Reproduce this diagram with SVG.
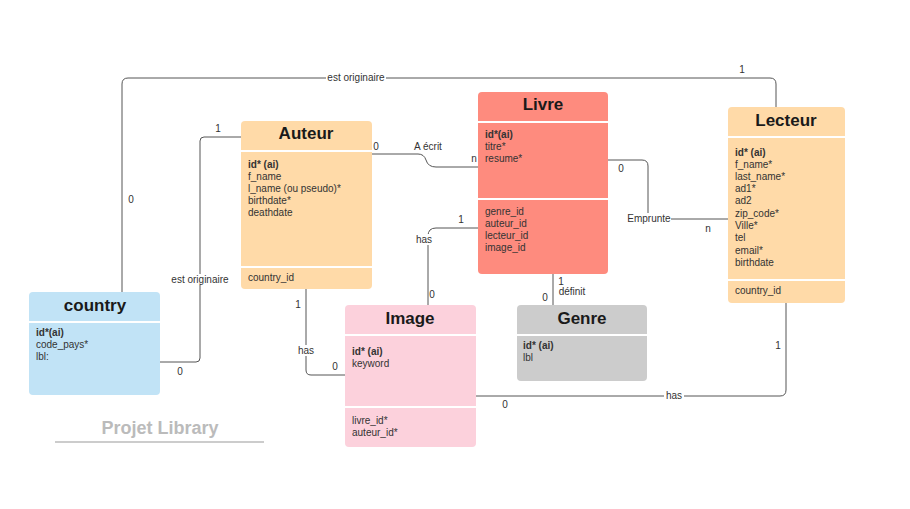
<svg xmlns="http://www.w3.org/2000/svg" width="910" height="509" viewBox="0 0 910 509">
<style>
.t{font-family:"Liberation Sans",Arial,sans-serif;font-size:17px;font-weight:bold;fill:#1a1a1a;text-anchor:middle}
.f{font-family:"Liberation Sans",Arial,sans-serif;font-size:10px;fill:#333}
.b{font-weight:bold}
.l{font-family:"Liberation Sans",Arial,sans-serif;font-size:10px;fill:#333}
.c{fill:none;stroke:#555;stroke-width:1}
.d{stroke:#fff;stroke-width:2}
</style>
<rect width="910" height="509" fill="#fff"/>
<g id="connectors">
<path class="c" d="M122 292 V84 Q122 78 128 78 H770 Q776 78 776 84 V107"/>
<path class="c" d="M160 362 H196 Q200 362 200 358 V141 Q200 137 204 137 H241"/>
<path class="c" d="M372 154 H418 Q424 154 426 160 Q428 167 436 167 H478"/>
<path class="c" d="M478 228 H436 Q428 228 428 236 V305"/>
<path class="c" d="M553 274 V305"/>
<path class="c" d="M608 160 H642 Q648 160 648 166 V219 H728"/>
<path class="c" d="M306 289 V370 Q306 375 311 375 H345"/>
<path class="c" d="M469 396 H780 Q786 396 786 390 V303"/>
<rect x="326" y="72" width="60" height="11" fill="#fff"/>
<text class="l" x="356" y="81" text-anchor="middle">est originaire</text>
<text class="l" x="742" y="73" text-anchor="middle">1</text>
<text class="l" x="131" y="203" text-anchor="middle">0</text>
<rect x="170" y="274" width="60" height="11" fill="#fff"/>
<text class="l" x="200" y="283" text-anchor="middle">est originaire</text>
<text class="l" x="218" y="132" text-anchor="middle">1</text>
<text class="l" x="180" y="375" text-anchor="middle">0</text>
<text class="l" x="376" y="150" text-anchor="middle">0</text>
<text class="l" x="428" y="150" text-anchor="middle">A écrit</text>
<text class="l" x="474" y="162" text-anchor="middle">n</text>
<rect x="414" y="234" width="20" height="11" fill="#fff"/>
<text class="l" x="424" y="243" text-anchor="middle">has</text>
<text class="l" x="461" y="223" text-anchor="middle">1</text>
<text class="l" x="432" y="298" text-anchor="middle">0</text>
<text class="l" x="561" y="285" text-anchor="middle">1</text>
<text class="l" x="572" y="295" text-anchor="middle">définit</text>
<text class="l" x="545" y="301" text-anchor="middle">0</text>
<rect x="627" y="213" width="44" height="11" fill="#fff"/>
<text class="l" x="649" y="222" text-anchor="middle">Emprunte</text>
<text class="l" x="621" y="172" text-anchor="middle">0</text>
<text class="l" x="708" y="232" text-anchor="middle">n</text>
<text class="l" x="298" y="308" text-anchor="middle">1</text>
<rect x="296" y="345" width="20" height="11" fill="#fff"/>
<text class="l" x="306" y="354" text-anchor="middle">has</text>
<text class="l" x="335" y="370" text-anchor="middle">0</text>
<rect x="664" y="390" width="20" height="11" fill="#fff"/>
<text class="l" x="674" y="399" text-anchor="middle">has</text>
<text class="l" x="505" y="408" text-anchor="middle">0</text>
<text class="l" x="778" y="349" text-anchor="middle">1</text>
</g>
<g id="auteur">
<rect x="241" y="121" width="131" height="168" rx="4" fill="#ffdaa8"/>
<line class="d" x1="241" y1="151" x2="372" y2="151"/>
<line class="d" x1="241" y1="267" x2="372" y2="267"/>
<text class="t" x="306" y="139">Auteur</text>
<text class="f b" x="248" y="168">id* (ai)</text>
<text class="f" x="248" y="180">f_name</text>
<text class="f" x="248" y="192">l_name (ou pseudo)*</text>
<text class="f" x="248" y="204">birthdate*</text>
<text class="f" x="248" y="216">deathdate</text>
<text class="f" x="248" y="281">country_id</text>
</g>
<g id="livre">
<rect x="478" y="92" width="130" height="182" rx="4" fill="#fe8b7e"/>
<line class="d" x1="478" y1="122" x2="608" y2="122"/>
<line class="d" x1="478" y1="199" x2="608" y2="199"/>
<text class="t" x="543" y="110">Livre</text>
<text class="f b" x="485" y="138">id*(ai)</text>
<text class="f" x="485" y="150">titre*</text>
<text class="f" x="485" y="162">resume*</text>
<text class="f" x="485" y="215">genre_id</text>
<text class="f" x="485" y="227">auteur_id</text>
<text class="f" x="485" y="239">lecteur_id</text>
<text class="f" x="485" y="251">image_id</text>
</g>
<g id="lecteur">
<rect x="728" y="107" width="117" height="196" rx="4" fill="#ffdaa8"/>
<line class="d" x1="728" y1="137" x2="845" y2="137"/>
<line class="d" x1="728" y1="280" x2="845" y2="280"/>
<text class="t" x="786" y="126">Lecteur</text>
<text class="f b" x="735" y="156">id* (ai)</text>
<text class="f" x="735" y="168">f_name*</text>
<text class="f" x="735" y="180">last_name*</text>
<text class="f" x="735" y="192">ad1*</text>
<text class="f" x="735" y="204">ad2</text>
<text class="f" x="735" y="217">zip_code*</text>
<text class="f" x="735" y="229">Ville*</text>
<text class="f" x="735" y="241">tel</text>
<text class="f" x="735" y="254">email*</text>
<text class="f" x="735" y="266">birthdate</text>
<text class="f" x="735" y="294">country_id</text>
</g>
<g id="country">
<rect x="29" y="292" width="131" height="103" rx="4" fill="#c1e3f6"/>
<line class="d" x1="29" y1="322" x2="160" y2="322"/>
<text class="t" x="95" y="311">country</text>
<text class="f b" x="36" y="336">id*(ai)</text>
<text class="f" x="36" y="348">code_pays*</text>
<text class="f" x="36" y="360">lbl:</text>
</g>
<g id="image">
<rect x="345" y="305" width="131" height="142" rx="4" fill="#fcd1dc"/>
<line class="d" x1="345" y1="335" x2="476" y2="335"/>
<line class="d" x1="345" y1="407" x2="476" y2="407"/>
<text class="t" x="410" y="324">Image</text>
<text class="f b" x="352" y="355">id* (ai)</text>
<text class="f" x="352" y="367">keyword</text>
<text class="f" x="352" y="424">livre_id*</text>
<text class="f" x="352" y="436">auteur_id*</text>
</g>
<g id="genre">
<rect x="517" y="305" width="130" height="76" rx="4" fill="#cccccc"/>
<line class="d" x1="517" y1="335" x2="647" y2="335"/>
<text class="t" x="582" y="324">Genre</text>
<text class="f b" x="523" y="349">id* (ai)</text>
<text class="f" x="523" y="361">lbl</text>
</g>
<g id="title">
<text x="160" y="434" text-anchor="middle" style="font-family:'Liberation Sans',Arial,sans-serif;font-size:18px;font-weight:bold;fill:#bbbbbb">Projet Library</text>
<line x1="55" y1="442" x2="264" y2="442" stroke="#bbbbbb" stroke-width="1.5"/>
</g>
</svg>
